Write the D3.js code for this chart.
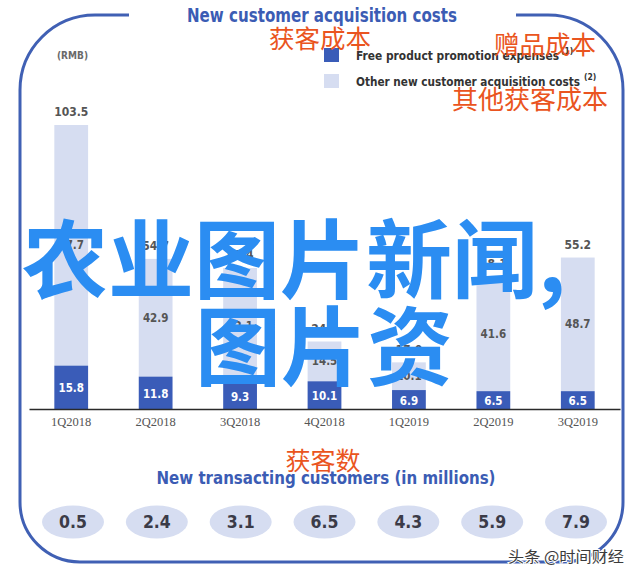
<!DOCTYPE html>
<html>
<head>
<meta charset="utf-8">
<script src="https://cdn.jsdelivr.net/npm/d3@7"></script>
<style>
  html, body { margin: 0; padding: 0; background: #ffffff; }
  svg { display: block; }
</style>
</head>
<body>
<svg id="chart" width="640" height="577"></svg>
<script>
// ---------- data ----------
const quarters = ["1Q2018", "2Q2018", "3Q2018", "4Q2018", "1Q2019", "2Q2019", "3Q2019"];
const freeProduct = [15.8, 11.8, 9.3, 10.1, 6.9, 6.5, 6.5];
const otherCosts = [87.7, 42.9, 42.1, 14.5, 10.1, 41.6, 48.7];
const totalCosts = [103.5, 54.7, 51.4, 24.6, 17.0, 48.1, 55.2];
const newCustomers = [0.5, 2.4, 3.1, 6.5, 4.3, 5.9, 7.9];
const legendLabels = ["Free product promotion expenses", "Other new customer acquisition costs"];
const legendNotes = ["(1)", "(2)"];

// ---------- styles ----------
const DARK = "#3a5cb8";
const LIGHT = "#d6ddf1";
const BLUE_TEXT = "#3b5cb4";
const ORANGE = "#ea5420";
const WM_BLUE = "#2b8df2";
const COND = "'DejaVu Sans Condensed', 'Liberation Sans Narrow', 'DejaVu Sans', sans-serif";
const CJK = "'Noto Sans CJK SC', 'Noto Sans', sans-serif";

const svg = d3.select("#chart");

// ---------- frame ----------
svg.append("path")
  .attr("d", "M129,15 H95 A75,75 0 0 0 20,90 V502 A60,60 0 0 0 80,562 H563 A60,60 0 0 0 623,502 V90 A75,75 0 0 0 548,15 H516")
  .attr("fill", "none")
  .attr("stroke", "#4060b4")
  .attr("stroke-width", 3);

// title
svg.append("text")
  .attr("x", 322).attr("y", 22)
  .attr("text-anchor", "middle")
  .attr("font-family", COND).attr("font-weight", "bold").attr("font-size", 19)
  .attr("textLength", 270).attr("lengthAdjust", "spacingAndGlyphs")
  .attr("fill", BLUE_TEXT)
  .text("New customer acquisition costs");

// (RMB)
svg.append("text")
  .attr("x", 57).attr("y", 59)
  .attr("font-family", COND).attr("font-weight", "bold").attr("font-size", 11)
  .attr("textLength", 31).attr("lengthAdjust", "spacingAndGlyphs")
  .attr("fill", "#6a6a6a")
  .text("(RMB)");

// legend
const legendColors = [DARK, LIGHT];
const legendY = [55, 81];
const legendW = [203, 224];
const noteX = [561, 584];
legendLabels.forEach((lab, i) => {
  svg.append("rect")
    .attr("x", 324).attr("y", legendY[i] - 7)
    .attr("width", 15).attr("height", 14)
    .attr("fill", legendColors[i]);
  svg.append("text")
    .attr("x", 356).attr("y", legendY[i] + 5)
    .attr("font-family", COND).attr("font-weight", "bold").attr("font-size", 13)
    .attr("textLength", legendW[i]).attr("lengthAdjust", "spacingAndGlyphs")
    .attr("fill", "#333333")
    .text(lab);
  svg.append("text")
    .attr("x", noteX[i]).attr("y", legendY[i] - 1)
    .attr("font-family", COND).attr("font-weight", "bold").attr("font-size", 8.5)
    .attr("fill", "#333333")
    .text(legendNotes[i]);
});

// ---------- scales ----------
const x = d3.scaleBand().domain(quarters).range([29, 620]).paddingInner(0.6).paddingOuter(0.3);
const y = d3.scaleLinear().domain([0, 103.5]).range([409, 125]);

const rows = quarters.map((q, i) => ({
  q, free: freeProduct[i], other: otherCosts[i], total: totalCosts[i]
}));

const g = svg.append("g");

// other (light) segment: from free top to free+other
g.selectAll("rect.other").data(rows).join("rect")
  .attr("class", "other")
  .attr("x", d => x(d.q))
  .attr("width", x.bandwidth())
  .attr("y", d => y(d.free + d.other))
  .attr("height", d => y(d.free) - y(d.free + d.other))
  .attr("fill", LIGHT);

g.selectAll("rect.free").data(rows).join("rect")
  .attr("class", "free")
  .attr("x", d => x(d.q))
  .attr("width", x.bandwidth())
  .attr("y", d => y(d.free))
  .attr("height", d => y(0) - y(d.free))
  .attr("fill", DARK);

// labels
const cx = d => x(d.q) + x.bandwidth() / 2;
g.selectAll("text.total").data(rows).join("text")
  .attr("class", "total")
  .attr("x", cx)
  .attr("y", d => y(d.free + d.other) - 13)
  .attr("dy", "0.35em")
  .attr("text-anchor", "middle")
  .attr("font-family", COND).attr("font-weight", "bold").attr("font-size", 12)
  .attr("fill", "#555555")
  .text(d => d.total.toFixed(1));

g.selectAll("text.otherLab").data(rows).join("text")
  .attr("class", "otherLab")
  .attr("x", cx)
  .attr("y", d => (y(d.free) + y(d.free + d.other)) / 2)
  .attr("dy", "0.35em")
  .attr("text-anchor", "middle")
  .attr("font-family", COND).attr("font-weight", "bold").attr("font-size", 11.5)
  .attr("fill", "#555555")
  .text(d => d.other.toFixed(1));

g.selectAll("text.freeLab").data(rows).join("text")
  .attr("class", "freeLab")
  .attr("x", cx)
  .attr("y", d => (y(0) + y(d.free)) / 2 + 1)
  .attr("dy", "0.35em")
  .attr("text-anchor", "middle")
  .attr("font-family", COND).attr("font-weight", "bold").attr("font-size", 11.5)
  .attr("fill", "#ffffff")
  .text(d => d.free.toFixed(1));

// axis
const axis = svg.append("g")
  .attr("transform", "translate(0,409)")
  .call(d3.axisBottom(x).tickSize(0).tickPadding(8));
axis.select(".domain").attr("stroke", "#2a2a2a").attr("stroke-width", 1.6);
axis.selectAll("text")
  .attr("font-family", "'Liberation Serif', 'DejaVu Serif', serif")
  .attr("font-size", 12.5)
  .attr("fill", "#555555");

// ---------- new transacting customers ----------
svg.append("text")
  .attr("x", 326).attr("y", 484)
  .attr("text-anchor", "middle")
  .attr("font-family", COND).attr("font-weight", "bold").attr("font-size", 17)
  .attr("textLength", 339).attr("lengthAdjust", "spacingAndGlyphs")
  .attr("fill", BLUE_TEXT)
  .text("New transacting customers (in millions)");

const px = d3.scalePoint().domain(quarters).range([73, 576]);
const pills = svg.append("g");
pills.selectAll("ellipse").data(quarters).join("ellipse")
  .attr("cx", d => px(d))
  .attr("cy", 522)
  .attr("rx", 31).attr("ry", 16.5)
  .attr("fill", LIGHT);
pills.selectAll("text").data(quarters).join("text")
  .attr("x", d => px(d))
  .attr("y", 522)
  .attr("dy", "0.36em")
  .attr("text-anchor", "middle")
  .attr("font-family", COND).attr("font-weight", "bold").attr("font-size", 17.5)
  .attr("fill", "#3b3b48")
  .text((d, i) => newCustomers[i].toFixed(1));

// ---------- overlay annotations ----------
const orange = [
  { t: "获客成本", x: 320, y: 36, s: 25.5 },
  { t: "赠品成本", x: 545, y: 42, s: 25.5 },
  { t: "其他获客成本", x: 530, y: 97, s: 26 },
  { t: "获客数", x: 323, y: 459, s: 25 }
];
svg.selectAll("text.orange").data(orange).join("text")
  .attr("class", "orange")
  .attr("x", d => d.x).attr("y", d => d.y)
  .attr("text-anchor", "middle")
  .attr("dominant-baseline", "central")
  .attr("font-family", CJK).attr("font-size", d => d.s)
  .attr("fill", ORANGE)
  .text(d => d.t);

const wm = [
  { t: "农业图片新闻,", x: 22, y: 254 },
  { t: "图片资", x: 195, y: 341 }
];
svg.selectAll("text.wm").data(wm).join("text")
  .attr("class", "wm")
  .attr("x", d => d.x).attr("y", d => d.y)
  .attr("dominant-baseline", "central")
  .attr("font-family", CJK).attr("font-weight", "bold").attr("font-size", 86)
  .attr("fill", WM_BLUE)
  .text(d => d.t);

svg.append("text")
  .attr("x", 624).attr("y", 555)
  .attr("text-anchor", "end")
  .attr("dominant-baseline", "central")
  .attr("font-family", CJK).attr("font-size", 15)
  .attr("textLength", 116).attr("lengthAdjust", "spacingAndGlyphs")
  .attr("fill", "#3c3c3c")
  .attr("stroke", "#ffffff").attr("stroke-width", 2).attr("paint-order", "stroke")
  .text("头条 @时间财经");
</script>
</body>
</html>
